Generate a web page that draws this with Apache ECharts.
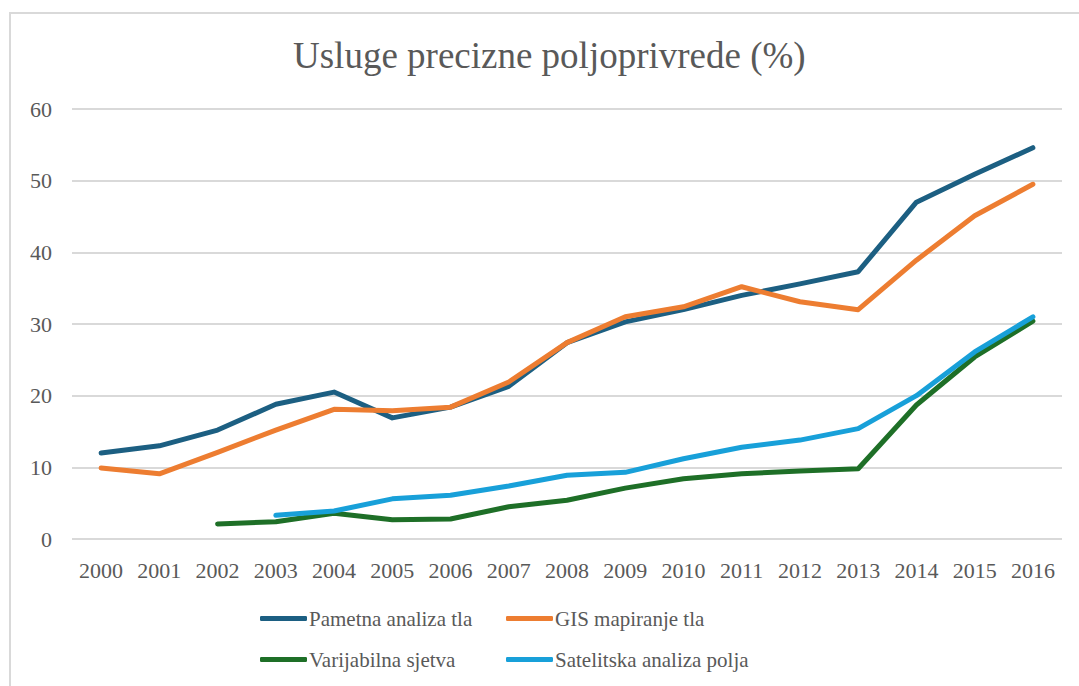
<!DOCTYPE html>
<html>
<head>
<meta charset="utf-8">
<style>
  html, body { margin: 0; padding: 0; background: #fff; overflow: hidden; }
  #frame { position: absolute; left: 9px; top: 12px; width: 1100px; height: 700px;
           border: 2px solid #d9d9d9; box-sizing: border-box; }
  #chart { position: absolute; left: 0; top: 0; width: 1079px; height: 686px; }
</style>
<script src="https://cdn.jsdelivr.net/npm/echarts@6/dist/echarts.min.js"></script>
</head>
<body>
<div id="frame"></div>
<div id="chart"></div>
<script>
var years = ['2000', '2001', '2002', '2003', '2004', '2005', '2006', '2007', '2008',
  '2009', '2010', '2011', '2012', '2013', '2014', '2015', '2016'];
var pametna = [12.0, 13.0, 15.2, 18.8, 20.5, 16.9, 18.4, 21.3, 27.4, 30.3, 32.0, 34.0, 35.6, 37.3, 47.0, 50.9, 54.6];
var gis = [9.9, 9.1, 12.1, 15.2, 18.1, 17.9, 18.4, 21.9, 27.4, 31.0, 32.4, 35.2, 33.1, 32.0, 38.9, 45.1, 49.5];
var varijabilna = [null, null, 2.1, 2.4, 3.6, 2.7, 2.8, 4.5, 5.4, 7.1, 8.4, 9.1, 9.5, 9.8, 18.7, 25.4, 30.4];
var satelitska = [null, null, null, 3.3, 3.9, 5.6, 6.1, 7.4, 8.9, 9.3, 11.2, 12.8, 13.8, 15.4, 20.0, 26.1, 31.0];
var yTicks = [0, 10, 20, 30, 40, 50, 60];

var ink = '#595959';
var font = 'Liberation Serif';

function line(name, data, color) {
  return {
    name: name,
    type: 'line',
    data: data,
    symbol: 'none',
    connectNulls: false,
    lineStyle: { color: color, width: 5, cap: 'round', join: 'round' },
    itemStyle: { color: color }
  };
}

function legendCol(left, names) {
  return {
    orient: 'vertical',
    left: left,
    top: 603,
    itemGap: 20,
    itemWidth: 47,
    itemHeight: 5,
    icon: 'roundRect',
    data: names,
    textStyle: { color: ink, fontFamily: font, fontSize: 21, padding: [0, 0, 0, -3] }
  };
}

var chart = echarts.init(document.getElementById('chart'), null, { renderer: 'svg' });
chart.setOption({
  animation: false,
  title: {
    text: 'Usluge precizne poljoprivrede (%)',
    left: 288,
    top: 32,
    textStyle: { color: ink, fontFamily: font, fontSize: 37, fontWeight: 'normal' }
  },
  legend: [
    legendCol(255, ['Pametna analiza tla', 'Varijabilna sjetva']),
    legendCol(501, ['GIS mapiranje tla', 'Satelitska analiza polja'])
  ],
  grid: { left: 72, right: 17, top: 109, bottom: 147 },
  xAxis: {
    type: 'category',
    data: years,
    boundaryGap: true,
    axisLine: { show: false },
    axisTick: { show: false },
    axisLabel: { color: ink, fontFamily: font, fontSize: 22, margin: 20 }
  },
  yAxis: {
    type: 'value',
    min: yTicks[0],
    max: yTicks[yTicks.length - 1],
    interval: 10,
    axisLine: { show: false },
    axisTick: { show: false },
    splitLine: { lineStyle: { color: '#d9d9d9', width: 2 } },
    axisLabel: { color: ink, fontFamily: font, fontSize: 22, margin: 20 }
  },
  series: [
    line('Pametna analiza tla', pametna, '#1c5f82'),
    line('GIS mapiranje tla', gis, '#ed7d31'),
    line('Varijabilna sjetva', varijabilna, '#1e6f27'),
    line('Satelitska analiza polja', satelitska, '#18a0d9')
  ]
});
</script>
</body>
</html>
